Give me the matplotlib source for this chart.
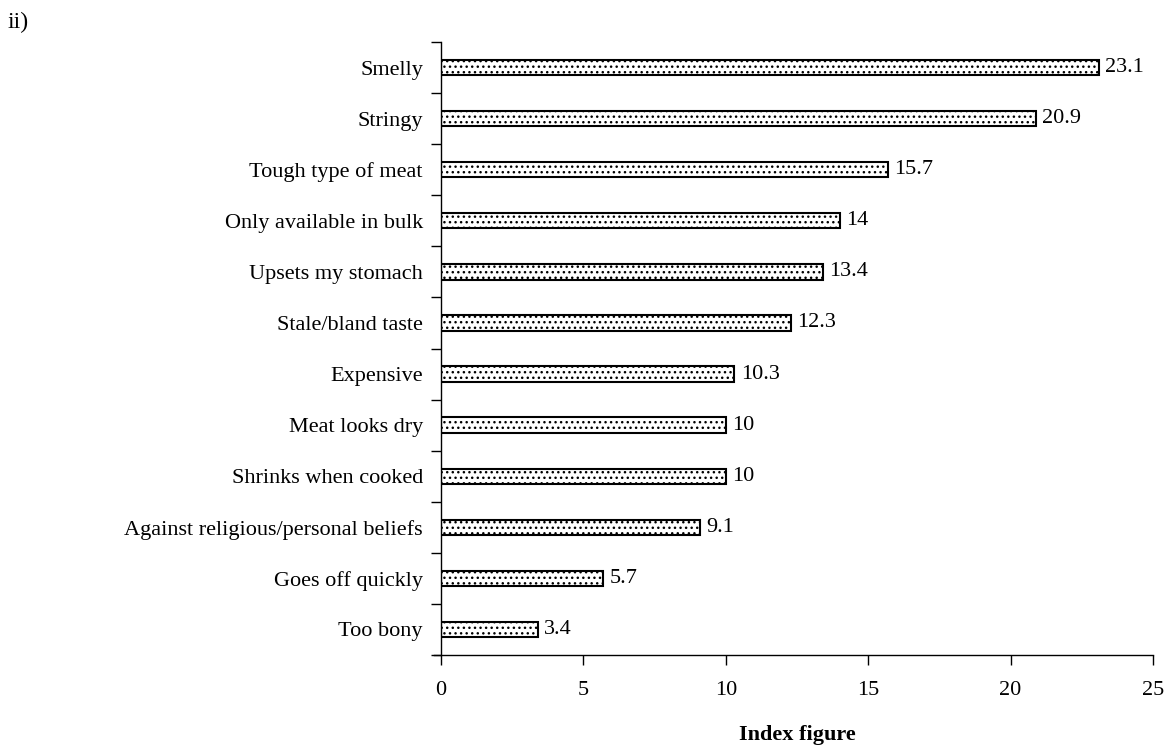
import numpy as np
import matplotlib.pyplot as plt

plt.rcParams['font.family'] = ['Liberation Serif', 'DejaVu Serif']
plt.rcParams['hatch.linewidth'] = 1.0

# Reasons, top to bottom, with index figures
reasons = ['Smelly', 'Stringy', 'Tough type of meat', 'Only available in bulk',
           'Upsets my stomach', 'Stale/bland taste', 'Expensive', 'Meat looks dry',
           'Shrinks when cooked', 'Against religious/personal beliefs',
           'Goes off quickly', 'Too bony']
index_vals = [23.1, 20.9, 15.7, 14, 13.4, 12.3, 10.3, 10, 10, 9.1, 5.7, 3.4]
value_labels = ['23.1', '20.9', '15.7', '14', '13.4', '12.3', '10.3', '10', '10',
                '9.1', '5.7', '3.4']
x_ticks = [0, 5, 10, 15, 20, 25]

fs = 16

fig = plt.figure(figsize=(11.69, 7.47), dpi=100)
ax = fig.add_axes([441 / 1169, 1 - 655 / 747, 712 / 1169, 613 / 747])

n = len(reasons)
ypos = np.arange(n)[::-1]
ax.barh(ypos, index_vals, height=0.3, color='white', edgecolor='black',
        linewidth=1.5, hatch='...', zorder=2)

for y, v, lab in zip(ypos, index_vals, value_labels):
    ax.text(v + 0.22, y, lab, va='center', ha='left', fontsize=fs)

ax.set_xlim(0, 25)
ax.set_ylim(-0.5, n - 0.5)
ax.set_xticks(x_ticks)
ax.set_xticklabels([str(t) for t in x_ticks], fontsize=fs)
ax.tick_params(axis='x', direction='out', length=7, width=1, pad=12)

# category labels without ticks, ticks placed between categories
ax.set_yticks(ypos)
ax.set_yticklabels(reasons, fontsize=fs)
ax.tick_params(axis='y', which='major', length=0, pad=13)
ax.set_yticks(np.arange(n + 1) - 0.5, minor=True)
ax.tick_params(axis='y', which='minor', direction='out', length=7, width=1)

for side in ['top', 'right']:
    ax.spines[side].set_visible(False)
ax.spines['left'].set_linewidth(1)
ax.spines['bottom'].set_linewidth(1)
ax.spines['bottom'].set_bounds(-0.25, 25)

ax.set_xlabel('Index figure', fontsize=fs, fontweight='bold', labelpad=18)

fig.text(8 / 1169, 1 - 22 / 747, 'ii)', fontsize=17, va='center', ha='left')

fig.savefig('out.png', dpi=100)
